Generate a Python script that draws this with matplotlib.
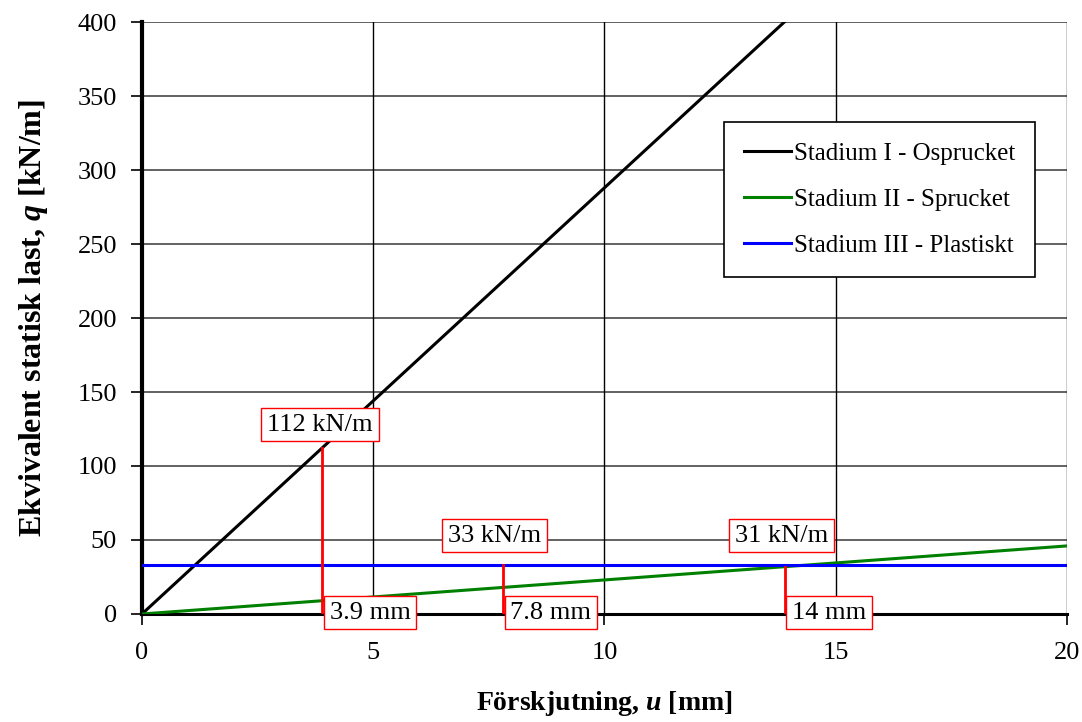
import matplotlib
matplotlib.use('Agg')
import matplotlib.pyplot as plt

# data
u_range = [0, 20]
q_stad1 = [0, 28.8 * 20]   # ospruckket, klipps vid 400
q_stad2 = [0, 46]
q_stad3 = [33, 33]
labels = ['Stadium I - Osprucket', 'Stadium II - Sprucket', 'Stadium III - Plastiskt']
colors = ['black', 'green', 'blue']

mark_u = [3.9, 7.8, 13.9]
mark_q = [112, 33, 32]
load_txt = ['112 kN/m', '33 kN/m', '31 kN/m']
disp_txt = ['3.9 mm', '7.8 mm', '14 mm']
load_pos = [(3.85, 128), (7.63, 53), (13.82, 53)]
disp_pos = [(4.93, 1), (8.84, 1), (14.85, 1)]

plt.rcParams['font.family'] = ['Liberation Serif', 'DejaVu Serif']
plt.rcParams['mathtext.fontset'] = 'custom'
plt.rcParams['mathtext.it'] = 'Liberation Serif:italic:bold'
plt.rcParams['mathtext.rm'] = 'Liberation Serif:bold'

fig = plt.figure(figsize=(10.82, 7.22), dpi=100)
ax = fig.add_axes([0.1312, 0.1496, 0.8549, 0.8199])

for y in range(50, 401, 50):
    ax.axhline(y, color='#555555', lw=1.3, zorder=1)
for x in range(5, 21, 5):
    ax.axvline(x, color='black', lw=1.0, zorder=1)

for q, c, lab in zip([q_stad1, q_stad2, q_stad3], colors, labels):
    ax.plot(u_range, q, color=c, lw=2.2, label=lab, zorder=3)

for x, y in zip(mark_u, mark_q):
    ax.plot([x, x], [0, y], color='red', lw=2, zorder=4)

box = dict(boxstyle='square,pad=0.22', fc='white', ec='red', lw=1)
for t, (x, y) in zip(load_txt, load_pos):
    ax.text(x, y, t, ha='center', va='center', fontsize=19, bbox=box, zorder=5)
for t, (x, y) in zip(disp_txt, disp_pos):
    ax.text(x, y, t, ha='center', va='center', fontsize=19, bbox=box, zorder=5,
            clip_on=False)

ax.set_xlim(0, 20)
ax.set_ylim(0, 400)
ax.set_xticks(range(0, 21, 5))
ax.set_yticks(range(0, 401, 50))
ax.tick_params(direction='out', length=8, width=1.2, labelsize=19, color='black')
ax.tick_params(axis='y', pad=10)
ax.tick_params(axis='x', pad=12)
for s in ['top', 'right']:
    ax.spines[s].set_visible(False)
ax.spines['left'].set_linewidth(3)
ax.spines['bottom'].set_linewidth(2.2)

ax.set_xlabel(r'Förskjutning, $u$ [mm]', fontsize=20, fontweight='bold', labelpad=18)
ax.set_ylabel(r'Ekvivalent statisk last, $q$ [kN/m]', fontsize=23, fontweight='bold', labelpad=20)

leg = ax.legend(loc='upper right', bbox_to_anchor=(0.9654, 0.831), fontsize=18,
                fancybox=False, framealpha=1, edgecolor='black', handlelength=1.9,
                handletextpad=0.1, labelspacing=0.95, borderpad=0.8, borderaxespad=0)
leg.get_frame().set_linewidth(1.2)

fig.savefig('out.png', dpi=100)
